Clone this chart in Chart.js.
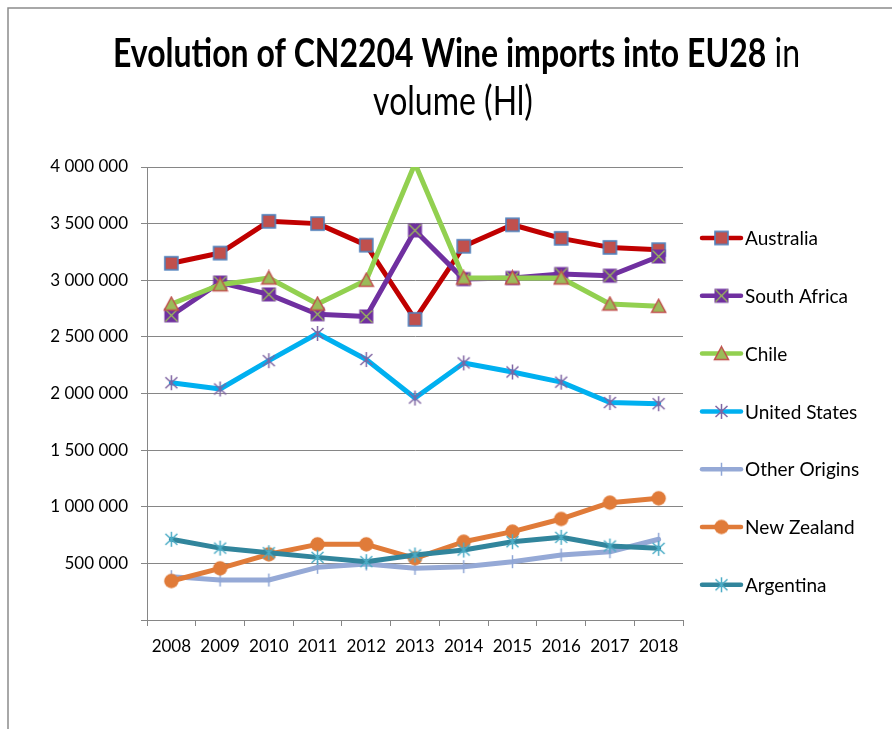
<!DOCTYPE html>
<html><head><meta charset="utf-8">
<script src="https://cdn.jsdelivr.net/npm/chart.js@4.4.1/dist/chart.umd.min.js"></script>
<style>html,body{margin:0;padding:0;background:#fff;}canvas{display:block;}</style>
</head><body>
<canvas id="c" width="892" height="729"></canvas>
<script>
const years = ['2008','2009','2010','2011','2012','2013','2014','2015','2016','2017','2018'];
const seriesNames = ['Australia','South Africa','Chile','United States','Other Origins','New Zealand','Argentina'];
const australia    = [3150000,3240000,3520000,3500000,3310000,2655000,3300000,3490000,3370000,3290000,3270000];
const southAfrica  = [2690000,2980000,2875000,2700000,2680000,3440000,3010000,3020000,3055000,3040000,3210000];
const chile        = [2790000,2960000,3020000,2790000,3000000,4030000,3020000,3020000,3020000,2790000,2770000];
const unitedStates = [2095000,2040000,2290000,2530000,2300000,1960000,2270000,2190000,2100000,1920000,1910000];
const otherOrigins = [383000,353000,353000,465000,494000,456000,471000,515000,574000,603000,713000];
const newZealand   = [344000,456000,580000,668000,668000,545000,691000,780000,892000,1036000,1075000];
const argentina    = [713000,635000,594000,553000,515000,574000,618000,691000,730000,653000,633000];
const yMax = 4000000;
const yStep = 500000;
const titleBold = 'Evolution of CN2204 Wine imports into EU28';
const titleRest = ' in';
const titleLine2 = 'volume (Hl)';

const FONT = 'Lato';

function mk(size, draw){const c=document.createElement('canvas');c.width=size;c.height=size;const g=c.getContext('2d');draw(g,size/2);return c;}
const mAus = mk(17,(g,h)=>{g.fillStyle='#C0504D';g.fillRect(2,2,13,13);g.strokeStyle='#4F81BD';g.lineWidth=1.6;g.strokeRect(2,2,13,13);});
const mSA = mk(17,(g,h)=>{g.fillStyle='#7030A0';g.fillRect(1.5,1.5,14,14);g.strokeStyle='#9BBB59';g.lineWidth=1.3;g.beginPath();g.moveTo(2.5,2.5);g.lineTo(14.5,14.5);g.moveTo(14.5,2.5);g.lineTo(2.5,14.5);g.stroke();});
const mChile = mk(17,(g,h)=>{g.fillStyle='#9BBB59';g.strokeStyle='#C0504D';g.lineWidth=1.5;g.beginPath();g.moveTo(8.5,1.5);g.lineTo(15.5,14.5);g.lineTo(1.5,14.5);g.closePath();g.fill();g.stroke();});
function star(col){return mk(17,(g,h)=>{g.strokeStyle=col;g.lineWidth=1.5;g.beginPath();g.moveTo(8.5,1);g.lineTo(8.5,16);g.moveTo(2.5,3);g.lineTo(14.5,14);g.moveTo(14.5,3);g.lineTo(2.5,14);g.stroke();});}
const mUS = star('#7F64A2');
const mArg = star('#4BACC6');
const mOther = mk(15,(g,h)=>{g.strokeStyle='#8FA6D6';g.lineWidth=1.5;g.beginPath();g.moveTo(7.5,1);g.lineTo(7.5,14);g.stroke();});
const mNZ = mk(17,(g,h)=>{g.fillStyle='#E07B39';g.beginPath();g.arc(8.5,8.5,7.2,0,Math.PI*2);g.fill();});

const lineColors = ['#C00000','#7030A0','#92D050','#00B0F0','#95A9D6','#E07B39','#31859C'];
const markers = [mAus,mSA,mChile,mUS,mOther,mNZ,mArg];
const values = [australia,southAfrica,chile,unitedStates,otherOrigins,newZealand,argentina];

const datasets = seriesNames.map((n,i)=>({
  label:n, data:values[i], borderColor:lineColors[i], backgroundColor:lineColors[i],
  borderWidth:5, pointStyle:markers[i],
  pointRadius:c=>(c.raw>yMax?0:4), pointHoverRadius:c=>(c.raw>yMax?0:4),
  borderJoinStyle:'round', borderCapStyle:'round', tension:0, order:seriesNames.length-i,
  clip:{left:8,right:8,top:0,bottom:8}
}));

function fmt(v){return String(v).replace(/\B(?=(\d{3})+(?!\d))/g,' ');}

const decor = {
  id:'decor',
  afterDraw(chart){
    const ctx=chart.ctx; ctx.save();
    ctx.strokeStyle='#8C8C8C'; ctx.lineWidth=1.5;
    ctx.beginPath(); ctx.moveTo(8,729); ctx.lineTo(8,8); ctx.lineTo(892,8); ctx.stroke();
    // title
    ctx.fillStyle='#000'; ctx.textBaseline='alphabetic'; ctx.textAlign='left';
    const fs=40;
    ctx.font='bold '+fs+'px '+FONT; const w1=ctx.measureText(titleBold).width;
    ctx.font=fs+'px '+FONT; const w2=ctx.measureText(titleRest).width;
    const sx=687/(w1+w2);
    ctx.save(); ctx.translate(456.5,67); ctx.scale(sx,1);
    let x=-(w1+w2)/2;
    ctx.font='bold '+fs+'px '+FONT; ctx.fillText(titleBold,x,0);
    ctx.font=fs+'px '+FONT; ctx.fillText(titleRest,x+w1,0);
    ctx.restore();
    ctx.save(); ctx.translate(453,115); ctx.scale(sx,1);
    ctx.font=fs+'px '+FONT; ctx.textAlign='center'; ctx.fillText(titleLine2,0,0);
    ctx.restore();
    // legend
    chart.data.datasets.forEach((d,i)=>{
      const y=238+i*57.8;
      ctx.strokeStyle=d.borderColor; ctx.lineWidth=4.5; ctx.lineCap='round';
      ctx.beginPath(); ctx.moveTo(702,y); ctx.lineTo(741,y); ctx.stroke();
      const m=d.pointStyle; ctx.drawImage(m,721.5-m.width/2,y-m.height/2);
      ctx.fillStyle='#000'; ctx.font='19px '+FONT; ctx.textBaseline='middle'; ctx.textAlign='left';
      ctx.fillText(d.label,745,y+1);
    });
    ctx.restore();
  }
};

new Chart(document.getElementById('c'),{
  type:'line',
  data:{labels:years,datasets},
  options:{
    responsive:false, animation:false, devicePixelRatio:1,
    layout:{padding:{left:0,right:209,top:167,bottom:64}},
    plugins:{legend:{display:false},tooltip:{enabled:false},title:{display:false}},
    scales:{
      x:{offset:true,
         grid:{offset:true,drawOnChartArea:false,drawTicks:true,tickLength:6,color:'#868686',lineWidth:1},
         border:{color:'#868686',width:1},
         ticks:{font:{family:FONT,size:17},color:'#000',padding:10,maxRotation:0,autoSkip:false},
         afterFit:s=>{s.height=45;}},
      y:{min:0,max:yMax,
         grid:{color:'#868686',lineWidth:1,tickLength:6},
         border:{color:'#868686',width:1},
         ticks:{stepSize:yStep,font:{family:FONT,size:17},color:'#000',padding:13,callback:v=>v===0?'':fmt(v)},
         afterFit:s=>{s.width=147;}}
    }
  },
  plugins:[decor]
});
</script>
</body></html>
